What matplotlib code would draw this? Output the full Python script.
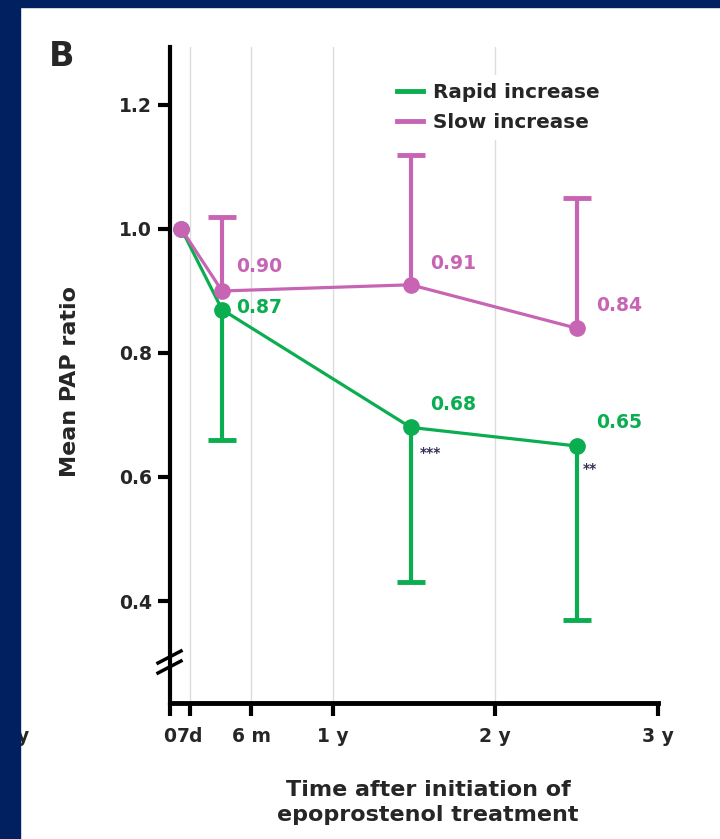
import numpy as np
import matplotlib
matplotlib.use('Agg')
from matplotlib import pyplot as plt
from matplotlib.patches import Rectangle
from matplotlib.lines import Line2D

# time after initiation (years)
t = [0.07, 0.32, 1.48, 2.5]

rapid = [1.0, 0.87, 0.68, 0.65]
rapid_err_low = [0.0, 0.21, 0.25, 0.28]   # one-sided (downwards)
slow = [1.0, 0.90, 0.91, 0.84]
slow_err_up = [0.0, 0.12, 0.21, 0.21]     # one-sided (upwards)

rapid_labels = ['', '0.87', '0.68', '0.65']
slow_labels = ['', '0.90', '0.91', '0.84']
stars = ['', '', '***', '**']

xticks = [0, 0.123, 0.5, 1, 2, 3]
xticklabels = ['0', '7d', '6 m', '1 y', '2 y', '3 y']
gridx = [0.123, 0.5, 1, 2]
yticks = [0.4, 0.6, 0.8, 1.0, 1.2]

green = '#0aad4f'
pink = '#c864b4'
navy = '#002060'
txt = '#262626'

plt.rcParams['font.family'] = 'DejaVu Sans'
plt.rcParams['font.weight'] = 'bold'

fig = plt.figure(figsize=(7.2, 8.39), dpi=100)
W, H = 720, 839
ax = fig.add_axes([170/W, 1-703/H, 488/W, 656/H])

ax.set_xlim(0, 3)
ax.set_ylim(0.2355, 1.2935)

for g in gridx:
    ax.axvline(g, color='#dcdcdc', lw=1, zorder=0)

# error bars (one sided) + caps
t_arr = np.array(t)
r = np.array(rapid); s = np.array(slow)
rl = np.array(rapid_err_low); su = np.array(slow_err_up)
m = rl > 0
ax.vlines(t_arr[m], r[m]-rl[m], r[m], color=green, lw=3, zorder=2)
ax.plot(t_arr[m], r[m]-rl[m], ls='none', marker='_', ms=20, mew=3.5, color=green, zorder=2)
m = su > 0
ax.vlines(t_arr[m], s[m], s[m]+su[m], color=pink, lw=3, zorder=2)
ax.plot(t_arr[m], s[m]+su[m], ls='none', marker='_', ms=20, mew=3.5, color=pink, zorder=2)

ax.plot(t, rapid, color=green, lw=2.3, marker='o', ms=11, label='Rapid increase', zorder=3)
ax.plot(t, slow, color=pink, lw=2.3, marker='o', ms=11, label='Slow increase', zorder=4)

# value labels
r_off = [(0, 0), (14, 2), (19, 23), (19, 23)]
s_off = [(0, 0), (14, 24), (19, 21), (19, 23)]
st_off = [(0, 0), (0, 0), (9, -26), (6, -23)]
for i in range(len(t)):
    if rapid_labels[i]:
        ax.annotate(rapid_labels[i], (t[i], rapid[i]), xytext=r_off[i], textcoords='offset pixels',
                    color=green, fontsize=13.5, fontweight='bold', va='center', ha='left')
    if slow_labels[i]:
        ax.annotate(slow_labels[i], (t[i], slow[i]), xytext=s_off[i], textcoords='offset pixels',
                    color=pink, fontsize=13.5, fontweight='bold', va='center', ha='left')
    if stars[i]:
        ax.annotate(stars[i], (t[i], rapid[i]), xytext=st_off[i], textcoords='offset pixels',
                    color='#333355', fontsize=10, fontweight='bold', va='center', ha='left')

# axes styling
for sp in ['top', 'right']:
    ax.spines[sp].set_visible(False)
ax.spines['left'].set_linewidth(3)
ax.spines['bottom'].set_linewidth(3.5)
ax.set_xticks(xticks)
ax.set_xticklabels(xticklabels)
ax.set_yticks(yticks)
ax.set_yticklabels([f'{v:.1f}' for v in yticks])
ax.tick_params(axis='both', length=9, width=3, color='black', labelcolor=txt, labelsize=13.5)
ax.tick_params(axis='y', pad=4)
ax.tick_params(axis='x', pad=8)

ax.set_ylabel('Mean PAP ratio', fontsize=16, fontweight='bold', color=txt)
ax.yaxis.set_label_coords(-0.184, 0.49)
ax.set_xlabel('Time after initiation of\nepoprostenol treatment', fontsize=16,
              fontweight='bold', color=txt, linespacing=1.3)
ax.xaxis.set_label_coords(0.529, -0.118)

leg = ax.legend(loc='upper left', bbox_to_anchor=(0.449, 0.957), borderaxespad=0,
                frameon=True, fancybox=False, edgecolor='none', facecolor='white', framealpha=1,
                fontsize=14.4, handlelength=1.3, handletextpad=0.5, labelspacing=0.55,
                borderpad=0.4)
for l in leg.get_lines():
    l.set_linewidth(3.5)
    l.set_marker('')
for tx in leg.get_texts():
    tx.set_color(txt)

# axis break marks
for yb in [657, 667]:
    fig.add_artist(Line2D([158/W, 181/W], [1-(yb+6)/H, 1-(yb-6)/H], color='black', lw=2.5))

# panel letter and cut-off neighbour label
fig.text(62/W, 1-57/H, 'B', fontsize=24, fontweight='bold', color=txt, ha='center', va='center')
fig.text(29/W, 1-736/H, 'y', fontsize=13.5, fontweight='bold', color=txt, ha='right', va='center')

# navy slide frame
fig.add_artist(Rectangle((0, 0), 20/W, 1, transform=fig.transFigure, color=navy, zorder=10))
fig.add_artist(Rectangle((0, 1-7/H), 1, 7/H, transform=fig.transFigure, color=navy, zorder=10))

fig.savefig('out.png', dpi=100)
